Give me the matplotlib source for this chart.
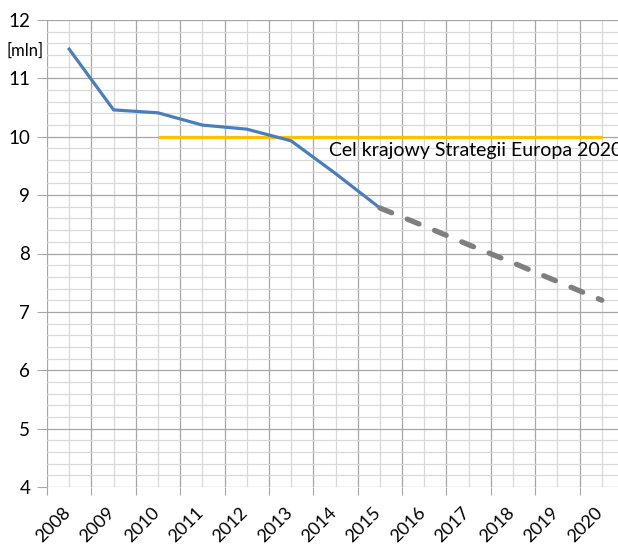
import matplotlib.pyplot as plt
from matplotlib.ticker import MultipleLocator, FixedLocator

lata = ["2008", "2009", "2010", "2011", "2012", "2013", "2014",
        "2015", "2016", "2017", "2018", "2019", "2020"]
# liczba osób (mln) - dane historyczne
wartosci = [11.5, 10.46, 10.41, 10.2, 10.13, 9.93, 9.37, 8.78]
# prognoza (linia przerywana) od 2015 do 2020
prognoza = [8.78, 8.47, 8.15, 7.84, 7.52, 7.2]
# cel krajowy od 2010 do 2020
cel = [10.0] * 11
opis_celu = "Cel krajowy Strategii Europa 2020"

plt.rcParams['font.family'] = ['Lato', 'DejaVu Sans']

fig = plt.figure(figsize=(6.18, 5.44), dpi=100)
ax = fig.add_axes([47 / 618, 1 - 487 / 544, 577 / 618, 467 / 544])

x = list(range(len(lata)))
ax.plot(x[2:], cel, color='#FFC000', lw=2.3, solid_capstyle='butt', zorder=3)
ax.plot(x[:len(wartosci)], wartosci, color='#4A7EBB', lw=2.3, zorder=4)
ax.plot(x[7:], prognoza, color='#7F7F7F', lw=3.8, dashes=(2.4, 3.2),
        dash_capstyle='round', zorder=4)

ax.text(5.85, 9.67, opis_celu, fontsize=14, color='black', va='baseline',
        zorder=5)
fig.text(7 / 618, 1 - 51 / 544, "[mln]", fontsize=12, va='center', ha='left')

ax.set_xlim(-0.5, 12.5)
ax.set_ylim(4, 12)

# siatka
ax.yaxis.set_major_locator(MultipleLocator(1))
ax.yaxis.set_minor_locator(MultipleLocator(0.2))
ax.xaxis.set_major_locator(FixedLocator([i - 0.5 for i in range(14)]))
ax.xaxis.set_minor_locator(FixedLocator(x))
ax.grid(True, which='major', color='#A6A6A6', lw=0.9)
ax.grid(True, which='minor', color='#D9D9D9', lw=0.9)
ax.set_axisbelow(True)

ax.set_xticklabels([])
for i, rok in enumerate(lata):
    ax.text(i - 0.16, 3.7, rok, rotation=45, ha='right', va='top',
            fontsize=13, rotation_mode='anchor')

ax.tick_params(axis='x', which='major', length=6, color='#A6A6A6')
ax.tick_params(axis='x', which='minor', length=0)
ax.tick_params(axis='y', which='major', length=7, color='#A6A6A6',
               labelsize=13.5, pad=5)
ax.tick_params(axis='y', which='minor', length=0)

for s in ax.spines.values():
    s.set_visible(False)

fig.savefig("out.png", dpi=100)
